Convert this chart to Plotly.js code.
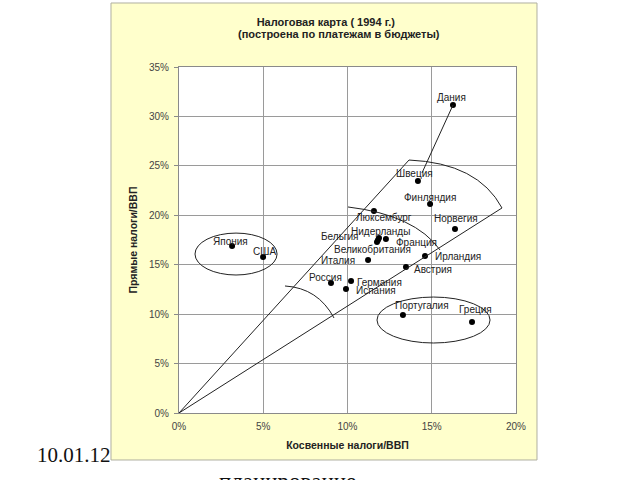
<!DOCTYPE html>
<html><head><meta charset="utf-8">
<script src="https://cdn.plot.ly/plotly-3.0.1.min.js"></script>
<style>html,body{margin:0;padding:0;background:#fff;}#chart{width:640px;height:480px;}</style>
</head><body><div id="chart"></div>
<script>
// Data (percent of GDP)
const countries = ["Дания","Швеция","Финляндия","Норвегия","Люксембург","Нидерланды","Бельгия","Франция","Великобритания","Италия","Ирландия","Австрия","Россия","Германия","Испания","Япония","США","Португалия","Греция"];
const indirectTax = [16.26,14.18,14.90,16.38,11.57,11.87,11.75,12.28,11.81,11.22,14.60,13.47,9.02,10.21,9.91,3.15,4.99,13.29,17.39];
const directTax   = [31.15,23.47,21.14,18.61,20.43,17.70,17.30,17.60,17.50,15.48,15.88,14.77,13.15,13.35,12.54,16.89,15.78,9.92,9.20];
const xTickVals = [0,5,10,15,20];
const xTickText = ["0%","5%","10%","15%","20%"];
const yTickVals = [0,5,10,15,20,25,30,35];
const yTickText = ["0%","5%","10%","15%","20%","25%","30%","35%"];

// label placement (pixel offsets, style only)
const labelShift = [[-1,8],[-3,7],[0,7],[1,11],[10,-6],[1,7],[-37,5],[31,-3],[-6,-9],[-30,-1],[33,0],[27,-3],[-5,6],[28,-1],[30,-1],[-2,5],[1,6],[19,9],[3,13]];

const FONT = "Liberation Sans, Arial, sans-serif";

const trace = {
  type: "scatter", mode: "markers",
  x: indirectTax, y: directTax,
  marker: {color: "#000", size: 6},
  hoverinfo: "skip", showlegend: false
};

const labelAnn = countries.map((c, i) => ({
  x: indirectTax[i], y: directTax[i], xref: "x", yref: "y",
  text: c, showarrow: false, xanchor: "center", yanchor: "middle",
  xshift: labelShift[i][0], yshift: labelShift[i][1],
  font: {family: FONT, size: 10, color: "#222"}
}));

const lineStyle = {color: "#222", width: 1};
const shapes = [
  {type:"rect", xref:"paper", yref:"paper", x0:-0.2018, x1:1.0623, y0:-0.1358, y1:1.185,
   fillcolor:"#FFFFCC", line:{color:"#b0b0a0", width:1}, layer:"below"},
  {type:"rect", xref:"paper", yref:"paper", x0:0, x1:1, y0:0, y1:1,
   fillcolor:"#FFFFFF", line:{width:0}, layer:"below"},
  // sector boundaries
  {type:"line", xref:"x", yref:"y", x0:0, y0:0, x1:13.65, y1:25.59, line:lineStyle},
  {type:"line", xref:"x", yref:"y", x0:0, y0:0, x1:19.17, y1:20.74, line:lineStyle},
  {type:"path", xref:"x", yref:"y", path:"M13.65,25.59 Q17.74,25.29 19.17,20.74", line:lineStyle},
  {type:"path", xref:"x", yref:"y", path:"M10.03,20.84 Q14.01,20.03 15.49,16.49", line:lineStyle},
  {type:"path", xref:"x", yref:"y", path:"M6.29,12.85 Q8.25,12.64 9.20,9.61", line:lineStyle},
  {type:"line", xref:"x", yref:"y", x0:14.42, y0:24.28, x1:16.26, y1:31.15, line:lineStyle},
  // groups
  {type:"circle", xref:"x", yref:"y", x0:0.95, x1:5.82, y0:13.96, y1:18.2, line:lineStyle},
  {type:"circle", xref:"x", yref:"y", x0:11.75, x1:18.46, y0:7.08, y1:11.73, line:lineStyle}
];

const extraAnn = [
  {xref:"paper", yref:"paper", x:0.4755, y:1.0954, text:"(построена по платежам в бюджеты)", showarrow:false,
   xanchor:"center", yanchor:"middle", font:{family:FONT, size:11, color:"#222", weight:"bold"}},
  {xref:"paper", yref:"paper", x:-0.196, y:-0.1214, text:"10.01.12", showarrow:false,
   xanchor:"right", yanchor:"middle", font:{family:"Liberation Serif, Times New Roman, serif", size:21, color:"#111"}},
  {xref:"paper", yref:"paper", x:0.323, y:-0.157, text:"планирование", showarrow:false,
   xanchor:"center", yanchor:"top", font:{family:"Liberation Serif, Times New Roman, serif", size:23, color:"#111"}}
];

const layout = {
  width: 640, height: 480,
  margin: {l:179, r:124, t:67, b:67, pad:0},
  paper_bgcolor: "#FFFFFF", plot_bgcolor: "#FFFFFF",
  showlegend: false,
  title: {text:"Налоговая карта ( 1994 г.)", x:0.509, xref:"container", xanchor:"center",
          y:1-22/480, yref:"container", yanchor:"middle",
          font:{family:FONT, size:11, color:"#222", weight:"bold"}},
  xaxis: {range:[0,20], tickvals:xTickVals, ticktext:xTickText, showgrid:true, gridcolor:"#9a9a9a", gridwidth:1,
          zeroline:false, showline:true, linecolor:"#8a8a8a", mirror:true, ticks:"", ticklabelstandoff:4,
          tickfont:{family:FONT, size:10, color:"#444"},
          title:{text:"Косвенные налоги/ВВП", font:{family:FONT, size:10.5, color:"#222", weight:"bold"}, standoff:10},
          fixedrange:true},
  yaxis: {range:[0,35], tickvals:yTickVals, ticktext:yTickText, showgrid:true, gridcolor:"#9a9a9a", gridwidth:1,
          zeroline:false, showline:true, linecolor:"#8a8a8a", mirror:true, ticks:"outside", ticklen:4, tickcolor:"#8a8a8a",
          ticklabelstandoff:3,
          tickfont:{family:FONT, size:10, color:"#444"},
          title:{text:"Прямые налоги/ВВП", font:{family:FONT, size:10.5, color:"#222", weight:"bold"}, standoff:9},
          fixedrange:true},
  shapes: shapes,
  annotations: labelAnn.concat(extraAnn)
};

Plotly.newPlot("chart", [trace], layout, {displayModeBar:false, staticPlot:true});
</script>
</body></html>
